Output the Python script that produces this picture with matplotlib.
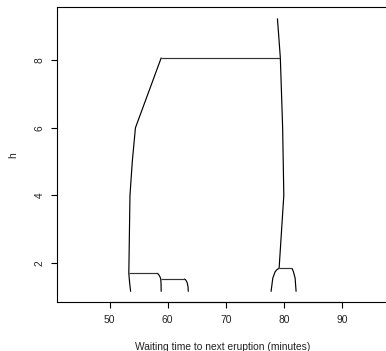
import matplotlib
matplotlib.use("Agg")
import matplotlib.pyplot as plt

plt.rcParams['font.family'] = ['Liberation Sans', 'DejaVu Sans']

# Mode paths (mode location vs bandwidth h) for the waiting-time density
path1_x = [53.62, 53.45, 53.30, 53.33, 53.50, 53.90, 54.44, 58.90]
path1_h = [1.15, 1.40, 1.70, 2.00, 4.00, 5.00, 6.00, 8.08]

path2_x = [58.88, 58.85, 58.80, 58.65, 58.40, 58.10]
path2_h = [1.15, 1.40, 1.53, 1.60, 1.67, 1.70]

path3_x = [63.55, 63.50, 63.35, 63.10, 62.80]
path3_h = [1.15, 1.30, 1.42, 1.50, 1.53]

path4_x = [77.80, 78.10, 78.50, 78.85, 79.19, 80.00, 79.80, 79.40, 78.90]
path4_h = [1.15, 1.55, 1.74, 1.81, 1.84, 4.00, 6.00, 8.08, 9.24]

path5_x = [82.12, 81.95, 81.66, 81.50, 81.38]
path5_h = [1.15, 1.55, 1.74, 1.81, 1.84]

# Splits: (left mode, right mode, bandwidth)
split_left = [53.33, 58.80, 79.19, 58.90]
split_right = [58.10, 62.80, 81.38, 79.40]
split_h = [1.70, 1.53, 1.84, 8.08]

x_ticks = [50, 60, 70, 80, 90]
y_ticks = [2, 4, 6, 8]

W, H = 386, 351
fig = plt.figure(figsize=(W / 100, H / 100), dpi=100)
left, right, top, bottom = 56.7, 389.0, 7.3, 302.0
ax = fig.add_axes([left / W, (H - bottom) / H, (right - left) / W, (bottom - top) / H])

lw = 0.85
for xs, hs in [(path1_x, path1_h), (path2_x, path2_h), (path3_x, path3_h),
               (path4_x, path4_h), (path5_x, path5_h)]:
    ax.plot(xs, hs, color='black', lw=lw, solid_capstyle='butt')
for xl, xr, h in zip(split_left, split_right, split_h):
    ax.plot([xl, xr], [h, h], color='#333333', lw=lw, solid_capstyle='butt')

ax.set_xlim(40.88, 98.12)
ax.set_ylim(0.846, 9.568)

ax.set_xticks(x_ticks)
ax.set_yticks(y_ticks)
ax.tick_params(axis='both', direction='out', length=4.3, width=0.8,
               labelsize=7.4, colors='black', labelcolor='#222222')
ax.tick_params(axis='x', pad=5)
ax.tick_params(axis='y', pad=4.5)
for lab in ax.get_yticklabels():
    lab.set_rotation(90)
    lab.set_va('center')

for s in ax.spines.values():
    s.set_linewidth(0.8)

# axis line along the ticked range
ax.plot([50, 90], [0.846, 0.846], color='black', lw=0.8, clip_on=False)

ax.set_xlabel('Waiting time to next eruption (minutes)', fontsize=7.4, color='#222222')
ax.xaxis.set_label_coords(0.5, -0.1527)
ax.xaxis.label.set_va('center')
ax.set_ylabel('h', fontsize=7.4, color='#222222')
ax.yaxis.set_label_coords(-0.1306, 0.5)
ax.yaxis.label.set_va('center')

fig.savefig('out.png', dpi=100)
